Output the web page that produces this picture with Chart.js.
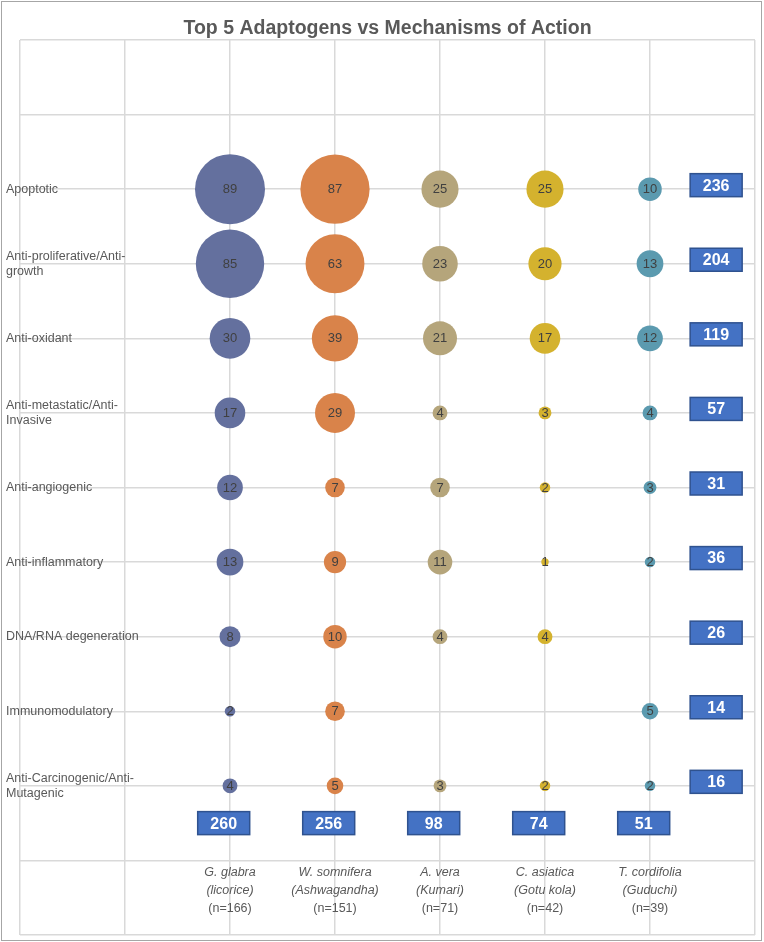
<!DOCTYPE html>
<html>
<head>
<meta charset="utf-8">
<script src="https://cdn.jsdelivr.net/npm/chart.js@4.4.1/dist/chart.umd.min.js"></script>
<style>
  body { margin: 0; background: #fff; }
</style>
</head>
<body>
<canvas id="myChart" width="764" height="942"></canvas>
<script>

/* =====================
  data
===================== */

var mechanisms = [
	['Apoptotic'],
	['Anti-proliferative/Anti-', 'growth'],
	['Anti-oxidant'],
	['Anti-metastatic/Anti-', 'Invasive'],
	['Anti-angiogenic'],
	['Anti-inflammatory'],
	['DNA/RNA degeneration'],
	['Immunomodulatory'],
	['Anti-Carcinogenic/Anti-', 'Mutagenic']
];

var species = ['G. glabra', 'W. somnifera', 'A. vera', 'C. asiatica', 'T. cordifolia'];
var commonNames = ['(licorice)', '(Ashwagandha)', '(Kumari)', '(Gotu kola)', '(Guduchi)'];
var sampleSizes = ['(n=166)', '(n=151)', '(n=71)', '(n=42)', '(n=39)'];

var glabra     = [89, 85, 30, 17, 12, 13, 8, 2, 4];
var somnifera  = [87, 63, 39, 29, 7, 9, 10, 7, 5];
var vera       = [25, 23, 21, 4, 7, 11, 4, null, 3];
var asiatica   = [25, 20, 17, 3, 2, 1, 4, null, 2];
var cordifolia = [10, 13, 12, 4, 3, 2, null, 5, 2];

var rowTotals = [236, 204, 119, 57, 31, 36, 26, 14, 16];
var colTotals = [260, 256, 98, 74, 51];

var colors = ['#64709e', '#d9834a', '#b5a57b', '#d4b22e', '#5b9aaf'];

/* =====================
  helpers
===================== */

var FONT = "'Liberation Sans', Arial, sans-serif";
var maxCount = 89;
var maxRadius = 35;

// mechanism i sits on y = 10 - i, species j on x = 2 + j
var rowY = function(i) { return 10 - i; };
var colX = function(j) { return 2 + j; };

var makeData = function(values, j) {
	var pts = [];
	values.forEach(function(v, i) {
		if (v === null) return;
		pts.push({ x: colX(j), y: rowY(i), v: v });
	});
	return pts;
};

var allSeries = [glabra, somnifera, vera, asiatica, cordifolia];

var datasets = allSeries.map(function(values, j) {
	return {
		label: species[j],
		data: makeData(values, j),
		backgroundColor: colors[j],
		borderWidth: 0,
		hoverBorderWidth: 0,
		radius: function(ctx) {
			var p = ctx.raw;
			if (!p) return 0;
			return maxRadius * Math.sqrt(p.v / maxCount); // area ~ count
		}
	};
});

var drawBox = function(ctx, cx, cy, text) {
	var w = 52, h = 23;
	ctx.fillStyle = '#4472c4';
	ctx.fillRect(cx - w / 2, cy - h / 2, w, h);
	ctx.strokeStyle = '#2f528f';
	ctx.lineWidth = 1.5;
	ctx.strokeRect(cx - w / 2, cy - h / 2, w, h);
	ctx.fillStyle = '#ffffff';
	ctx.font = 'bold 16px ' + FONT;
	ctx.textAlign = 'center';
	ctx.textBaseline = 'middle';
	ctx.fillText(text, cx, cy + 1);
};

/* =====================
  plugins
===================== */

var frame = {
	id: 'frame',
	beforeDraw: function(chart) {
		var ctx = chart.ctx;
		ctx.save();
		ctx.fillStyle = '#ffffff';
		ctx.fillRect(0, 0, chart.width, chart.height);
		ctx.strokeStyle = '#a6a6a6';
		ctx.lineWidth = 1;
		ctx.strokeRect(1.5, 1.5, chart.width - 4, chart.height - 3);
		ctx.restore();
	}
};

var labels = {
	id: 'labels',
	afterDatasetsDraw: function(chart) {
		var ctx = chart.ctx;
		var xs = chart.scales.x, ys = chart.scales.y;
		ctx.save();

		// numbers inside the bubbles
		ctx.font = '13px ' + FONT;
		ctx.fillStyle = '#404040';
		ctx.textAlign = 'center';
		ctx.textBaseline = 'middle';
		chart.data.datasets.forEach(function(ds, j) {
			var meta = chart.getDatasetMeta(j);
			meta.data.forEach(function(el, k) {
				ctx.fillText(String(ds.data[k].v), el.x, el.y + 0.5);
			});
		});

		// mechanism names on the left
		ctx.font = '12.5px ' + FONT;
		ctx.fillStyle = '#595959';
		ctx.textAlign = 'left';
		mechanisms.forEach(function(lines, i) {
			var y = ys.getPixelForValue(rowY(i));
			if (lines.length === 1) {
				ctx.fillText(lines[0], 6, y);
			} else {
				ctx.fillText(lines[0], 6, y - 7);
				ctx.fillText(lines[1], 6, y + 8);
			}
		});

		// species names under the plot
		ctx.textAlign = 'center';
		species.forEach(function(name, j) {
			var x = xs.getPixelForValue(colX(j));
			var y = ys.getPixelForValue(0.84);
			ctx.font = 'italic 12.5px ' + FONT;
			ctx.fillText(name, x, y);
			ctx.fillText(commonNames[j], x, y + 18);
			ctx.font = '12.5px ' + FONT;
			ctx.fillText(sampleSizes[j], x, y + 36);
		});

		// totals
		rowTotals.forEach(function(t, i) {
			drawBox(ctx, xs.getPixelForValue(6.63), ys.getPixelForValue(rowY(i)) - 4, String(t));
		});
		colTotals.forEach(function(t, j) {
			drawBox(ctx, xs.getPixelForValue(colX(j) - 0.06), ys.getPixelForValue(1.5), String(t));
		});

		ctx.restore();
	}
};

/* =====================
  chart
===================== */

var can = document.getElementById('myChart');
var context = can.getContext('2d');

var gridOpts = { color: '#d9d9d9', lineWidth: 1.5, drawTicks: false };

var myChart = new Chart(context, {
	type: 'bubble',
	data: { datasets: datasets },
	options: {
		responsive: false,
		animation: false,
		layout: { autoPadding: false, padding: { left: 20, right: 9, top: 0, bottom: 7 } },
		plugins: {
			legend: { display: false },
			tooltip: { enabled: false },
			title: {
				display: true,
				text: 'Top 5 Adaptogens vs Mechanisms of Action',
				color: '#595959',
				font: { family: FONT, size: 19.5, weight: 'bold', lineHeight: 1.1 },
				padding: { top: 18, bottom: 0.55 }
			}
		},
		scales: {
			x: {
				min: 0, max: 7,
				ticks: { display: false, stepSize: 1 },
				grid: gridOpts,
				border: { display: false }
			},
			y: {
				min: 0, max: 12,
				ticks: { display: false, stepSize: 1 },
				grid: gridOpts,
				border: { display: false }
			}
		}
	},
	plugins: [frame, labels]
});
</script>
</body>
</html>
